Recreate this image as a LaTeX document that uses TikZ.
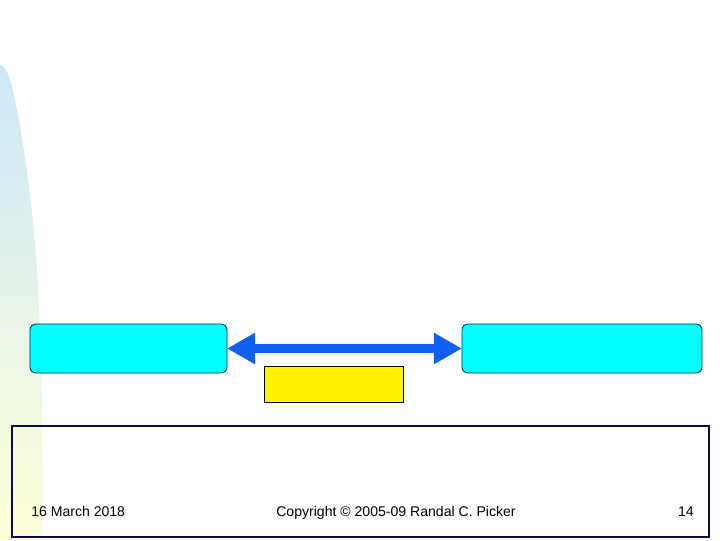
\documentclass[tikz,border=0pt]{standalone}
\usepackage{fontspec}
\setmainfont{Liberation Sans}
\usepackage{tikz}
\usetikzlibrary{positioning, arrows.meta, shadings}
\definecolor{BoxCyan}{RGB}{0,255,255}
\definecolor{BoxEdge}{RGB}{20,40,80}
\definecolor{ArrowBlue}{RGB}{16,96,240}
\definecolor{FrameNavy}{RGB}{10,10,80}
\definecolor{BarTop}{RGB}{204,232,250}
\definecolor{BarBottom}{RGB}{255,255,214}

\tikzset{
  partybox/.style={draw=BoxEdge, fill=BoxCyan, line width=0.6pt, rounded corners=0.15cm,
    minimum height=1.225cm, inner sep=0pt, outer sep=0pt},
  notebox/.style={draw=black, fill=yellow, line width=0.6pt,
    minimum width=3.475cm, minimum height=0.9cm, inner sep=0pt},
  footer/.style={font=\fontsize{10}{12}\selectfont, inner sep=0pt}
}

\begin{document}
\begin{tikzpicture}[x=0.025cm,y=0.025cm]
  \useasboundingbox (0,0) rectangle (720,540);

  % side bar
  \shade[top color=BarTop, bottom color=BarBottom]
    (0,0) -- (0,475) .. controls (7,475) and (12,455) .. (15,440)
    .. controls (25,390) and (33,330) .. (37,270)
    .. controls (40,220) and (41,180) .. (42,140) -- (42,0) -- cycle;

  % the two parties and the link
  \node[partybox, minimum width=4.925cm] (left) at (128.5,191.5) {};
  \node[partybox, minimum width=6cm] (right) at (582,191.5) {};
  \draw[ArrowBlue, line width=7pt,
    {Triangle[length=20pt,width=21pt]}-{Triangle[length=20pt,width=21pt]}]
    (left.east) -- (right.west);
  \node[notebox] (note) at (333.5,156) {};

  % footer
  \draw[FrameNavy, line width=2.1pt] (12,3) rectangle (709,114);
  \node[footer, anchor=base west] (date) at (31,24) {16 March 2018};
  \node[footer, anchor=base] (copy) at (396,24) {Copyright © 2005-09 Randal C. Picker};
  \node[footer, anchor=base east] (page) at (694,24) {14};
\end{tikzpicture}
\end{document}
